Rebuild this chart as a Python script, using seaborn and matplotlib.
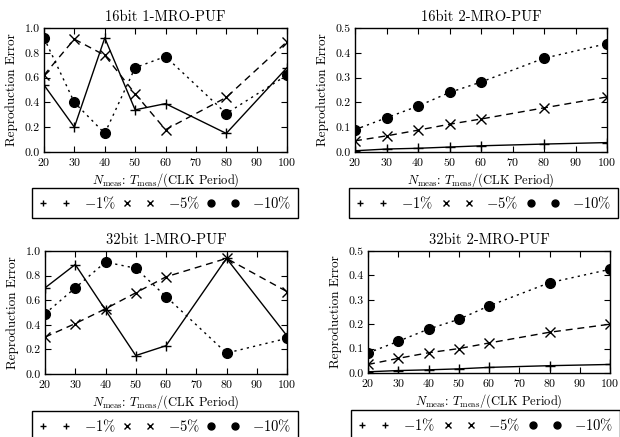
import numpy as np
import pandas as pd
import matplotlib
matplotlib.use("Agg")
import matplotlib.pyplot as plt
from matplotlib.lines import Line2D
import seaborn as sns

# ---------------- data ----------------
x_vals = [20, 30, 40, 50, 60, 80, 100]
levels = ["-1%", "-5%", "-10%"]
legend_labels = [r"$-1\%$", r"$-5\%$", r"$-10\%$"]

titles = ["16bit 1-MRO-PUF", "16bit 2-MRO-PUF", "32bit 1-MRO-PUF", "32bit 2-MRO-PUF"]

p16_1_m1 = [0.54, 0.20, 0.92, 0.34, 0.39, 0.15, 0.68]
p16_1_m5 = [0.62, 0.91, 0.78, 0.47, 0.18, 0.44, 0.89]
p16_1_m10 = [0.92, 0.40, 0.15, 0.68, 0.77, 0.31, 0.62]

p16_2_m1 = [0.005, 0.012, 0.015, 0.020, 0.025, 0.032, 0.038]
p16_2_m5 = [0.045, 0.065, 0.088, 0.112, 0.133, 0.178, 0.222]
p16_2_m10 = [0.090, 0.138, 0.185, 0.240, 0.282, 0.378, 0.437]

p32_1_m1 = [0.70, 0.89, 0.52, 0.15, 0.23, 0.94, 0.31]
p32_1_m5 = [0.30, 0.41, 0.53, 0.66, 0.79, 0.94, 0.67]
p32_1_m10 = [0.49, 0.70, 0.91, 0.86, 0.63, 0.17, 0.29]

p32_2_m1 = [0.005, 0.010, 0.013, 0.017, 0.023, 0.030, 0.035]
p32_2_m5 = [0.035, 0.060, 0.083, 0.100, 0.123, 0.167, 0.200]
p32_2_m10 = [0.082, 0.130, 0.180, 0.220, 0.275, 0.370, 0.425]

panel_series = [
    [p16_1_m1, p16_1_m5, p16_1_m10],
    [p16_2_m1, p16_2_m5, p16_2_m10],
    [p32_1_m1, p32_1_m5, p32_1_m10],
    [p32_2_m1, p32_2_m5, p32_2_m10],
]
y_max = [1.0, 0.5, 1.0, 0.5]
y_step = [0.2, 0.1, 0.2, 0.1]

# ---------------- style ----------------
sns.set_style("ticks")
plt.rcParams.update({
    "font.family": "serif",
    "font.serif": ["cmr10"],
    "mathtext.fontset": "cm",
    "axes.formatter.use_mathtext": True,
    "axes.unicode_minus": False,
    "xtick.direction": "in",
    "ytick.direction": "in",
    "xtick.top": True,
    "ytick.right": True,
    "xtick.major.size": 4,
    "ytick.major.size": 4,
    "xtick.major.width": 0.8,
    "ytick.major.width": 0.8,
    "axes.linewidth": 1.0,
    "axes.edgecolor": "black",
    "xtick.color": "black",
    "ytick.color": "black",
    "text.color": "black",
    "axes.labelcolor": "black",
})

W, H = 620, 437
fig = plt.figure(figsize=(W / 100, H / 100), dpi=100)

# axes boxes in pixels: left, top, right, bottom
boxes = [(44, 28, 287, 152), (355, 28, 607, 152), (45, 251, 287, 374), (368, 251, 610, 373)]
legend_boxes = [(32, 188, 298, 215), (349, 188, 618, 215), (32, 411, 298, 438), (351, 410, 620, 437)]

markers = {"-1%": "+", "-5%": "x", "-10%": "o"}
dashes = {"-1%": "", "-5%": (5, 3.5), "-10%": (1.6, 3.0)}
msizes = {"-1%": 7.5, "-5%": 6.5, "-10%": 7}
leg_msizes = {"-1%": 5, "-5%": 4.5, "-10%": 5}

for i in range(4):
    l, t, r, b = boxes[i]
    ax = fig.add_axes([l / W, 1 - b / H, (r - l) / W, (b - t) / H])
    rows = []
    for lev, ys in zip(levels, panel_series[i]):
        for xv, yv in zip(x_vals, ys):
            rows.append({"x": xv, "err": yv, "level": lev})
    df = pd.DataFrame(rows)
    for lev in levels:
        sub = df[df["level"] == lev]
        sns.lineplot(data=sub, x="x", y="err", ax=ax, color="black",
                     marker=markers[lev], markersize=msizes[lev],
                     markeredgecolor="black", markerfacecolor="black",
                     markeredgewidth=1.0, linewidth=1.0,
                     legend=False)
        if dashes[lev]:
            ax.lines[-1].set_dashes(dashes[lev])
        else:
            ax.lines[-1].set_linestyle("-")
    ax.set_xlim(20, 100)
    ax.set_ylim(0, y_max[i])
    ax.set_xticks(np.arange(20, 101, 10))
    yt = np.arange(0, y_max[i] + 1e-9, y_step[i])
    ax.set_yticks(yt)
    ax.set_yticklabels([f"{v:.1f}" for v in yt])
    ax.tick_params(labelsize=8.5, pad=3)
    ax.set_title(titles[i], fontsize=10.5, pad=5)
    ax.set_ylabel("Reproduction Error", fontsize=9.5, labelpad=5)
    ax.set_xlabel(r"$N_{\rm meas}$: $T_{\rm meas}$/(CLK Period)", fontsize=9, labelpad=2)

    handles = [Line2D([], [], color="black", linestyle="none", marker=markers[lev],
                      markersize=leg_msizes[lev], markeredgewidth=1.0,
                      markerfacecolor="black", markeredgecolor="black") for lev in levels]
    ll, lt, lr, lb = legend_boxes[i]
    leg = fig.legend(handles, legend_labels, loc="upper left",
                     bbox_to_anchor=(ll / W, 1 - lb / H, (lr - ll) / W, (lb - lt) / H),
                     bbox_transform=fig.transFigure, mode="expand", ncol=3,
                     numpoints=2, handlelength=2.2, handletextpad=0.9,
                     borderaxespad=0, borderpad=0.45, fontsize=10.5,
                     frameon=True, fancybox=False, framealpha=1, edgecolor="black")
    leg.get_frame().set_linewidth(1.0)

fig.savefig("out.png", dpi=100)
